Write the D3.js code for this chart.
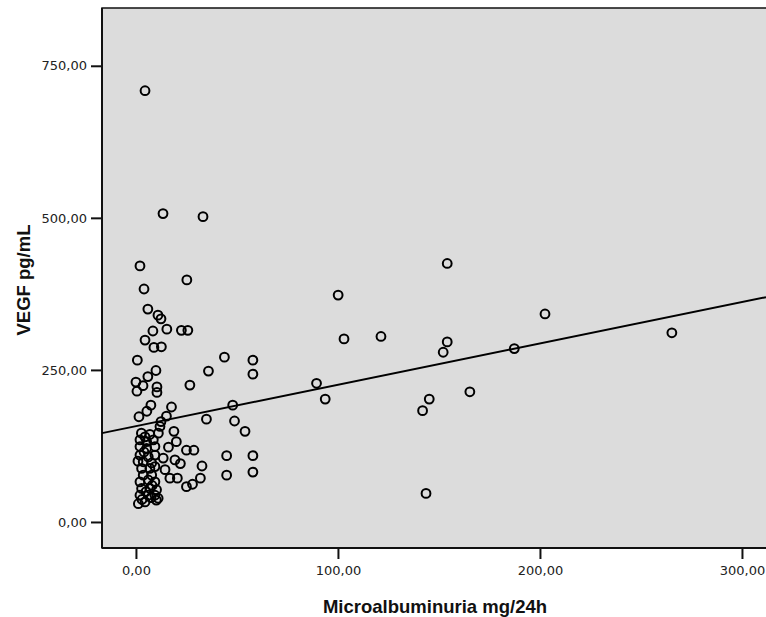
<html>
    <head>
        <title>VEGF vs Microalbuminuria</title>
        <script src="https://d3js.org/d3.v7.min.js"></script>
        <script>
            // values (x = microalbuminuria mg/24h, y = VEGF pg/mL)
            var microalbuminuria = [
                4.5, 13.4, 33.2, 2.0, 4.0, 25.2, 5.9, 10.9, 12.4, 8.4,
                15.3, 22.5, 25.7, 4.5, 8.9, 12.6, 0.7, 9.9, 5.9, 0.0,
                3.5, 10.4, 0.5, 10.4, 7.4, 17.6, 5.4, 1.5, 15.1, 12.4,
                18.8, 2.7, 6.9, 11.1, 20.0, 16.1, 25.0, 28.7, 19.3, 22.0,
                32.7, 14.4, 16.8, 20.5, 25.0, 28.0, 31.9, 1.2, 4.5, 10.1,
                43.8, 57.9, 57.9, 35.9, 26.7, 47.9, 34.9, 48.8, 54.0, 44.9,
                57.9, 44.9, 57.9, 154.1, 100.1, 103.0, 121.3, 154.1, 152.1, 89.4,
                93.7, 145.2, 141.9, 165.3, 143.6, 202.5, 187.3, 265.3,
                2.0, 5.3, 8.6, 2.0, 5.3, 9.4, 2.0, 6.1, 9.4, 3.6,
                7.8, 2.8, 6.9, 9.4, 3.6, 7.8, 2.0, 6.1, 9.4, 2.8,
                6.9, 10.2, 2.0, 6.1, 9.4, 11.0, 13.5, 11.9,
                4.0, 1.0, 8.0, 5.0, 3.0, 7.5, 4.5
            ];
            var vegf = [
                709, 507, 502, 421, 383, 398, 350, 340, 334, 314,
                317, 315, 315, 299, 287, 288, 266, 249, 239, 230,
                224, 222, 215, 213, 192, 189, 182, 173, 174, 165,
                149, 146, 144, 146, 132, 123, 118, 118, 102, 96,
                92, 86, 72, 72, 58, 62, 72, 30, 33, 36,
                271, 266, 243, 248, 225, 192, 169, 166, 149, 109,
                109, 77, 82, 425, 373, 301, 305, 296, 279, 228,
                202, 202, 183, 214, 47, 342, 285, 311,
                135, 132, 135, 124, 121, 124, 110, 107, 110, 99,
                97, 88, 88, 91, 77, 77, 66, 69, 66, 55,
                55, 53, 44, 44, 44, 39, 105, 157,
                115, 100, 60, 50, 37, 40, 140
            ];
            var xTicks = [0, 100, 200, 300];
            var yTicks = [0, 250, 500, 750];
            // fit line as drawn in the figure
            var fitIntercept = 157.5;
            var fitSlope = 0.68;

            document.addEventListener('DOMContentLoaded', function(){
                var svg = d3.select("#chart");
                var fmt = function (v) { return d3.format(".2f")(v).replace(".", ","); };

                var x = d3.scaleLinear().domain([-16.8, 311.9]).range([102, 766]);
                var y = d3.scaleLinear().domain([-42.8, 845]).range([548, 8]);

                // plot background (right edge runs off the picture)
                svg.append("rect")
                    .attr("x", 102)
                    .attr("y", 8)
                    .attr("width", 680)
                    .attr("height", 540)
                    .attr("fill", "#dcdcdc")
                    .attr("stroke", "#111")
                    .attr("stroke-width", 1.5);

                svg.append("g")
                    .attr("class", "axis")
                    .attr("transform", "translate(0,548)")
                    .call(d3.axisBottom(x).tickValues(xTicks).tickSize(11).tickPadding(7).tickFormat(fmt));
                svg.append("g")
                    .attr("class", "axis")
                    .attr("transform", "translate(102,0)")
                    .call(d3.axisLeft(y).tickValues(yTicks).tickSize(11).tickPadding(4).tickFormat(fmt));
                svg.selectAll(".axis .domain").remove();

                // left and bottom frame lines, a bit heavier
                svg.append("line")
                    .attr("x1", 102).attr("x2", 102)
                    .attr("y1", 8).attr("y2", 548)
                    .attr("stroke", "#111").attr("stroke-width", 2);
                svg.append("line")
                    .attr("x1", 102).attr("x2", 766)
                    .attr("y1", 548).attr("y2", 548)
                    .attr("stroke", "#111").attr("stroke-width", 2);

                var xd = x.domain();
                svg.append("line")
                    .attr("x1", x(xd[0]))
                    .attr("y1", y(fitIntercept + fitSlope * xd[0]))
                    .attr("x2", x(xd[1]))
                    .attr("y2", y(fitIntercept + fitSlope * xd[1]))
                    .attr("stroke", "#000")
                    .attr("stroke-width", 2);

                svg.append("g")
                    .selectAll("circle")
                    .data(d3.range(microalbuminuria.length))
                    .enter()
                    .append("circle")
                    .attr("cx", i => x(microalbuminuria[i]))
                    .attr("cy", i => y(vegf[i]))
                    .attr("r", 4.4)
                    .attr("fill", "none")
                    .attr("stroke", "#000")
                    .attr("stroke-width", 2);

                svg.append("text")
                    .attr("class", "title")
                    .attr("x", 435)
                    .attr("y", 613)
                    .attr("text-anchor", "middle")
                    .text("Microalbuminuria mg/24h");
                svg.append("text")
                    .attr("class", "title")
                    .attr("transform", "translate(30,280) rotate(-90)")
                    .attr("text-anchor", "middle")
                    .text("VEGF pg/mL");
            })
        </script>
        <style>
            body {
                margin: 0;
                background: #fff;
            }
            svg {
                display: block;
            }
            .axis text {
                font: 13px "DejaVu Sans", sans-serif;
                fill: #222;
            }
            .axis line {
                stroke: #111;
                stroke-width: 2;
            }
            .title {
                font: bold 18.5px "Liberation Sans", Arial, sans-serif;
                fill: #111;
            }
        </style>
    </head>
    <body>
        <svg id="chart" width="766" height="617"></svg>
    </body>
</html>
